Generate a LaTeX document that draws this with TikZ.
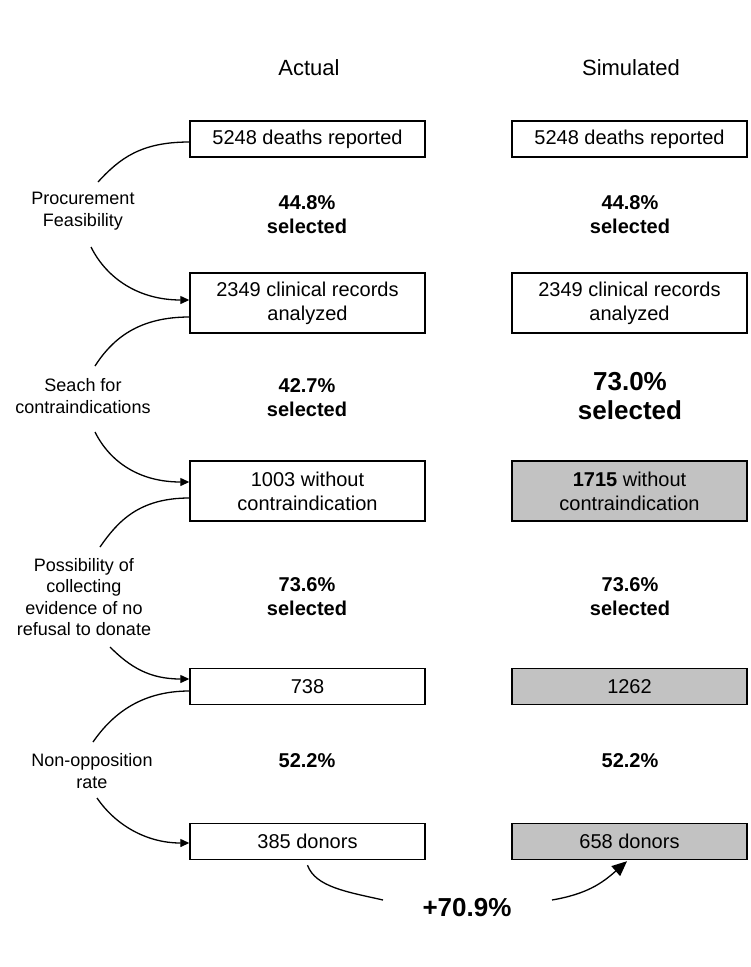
\documentclass[tikz,border=0pt]{standalone}
\usepackage{fontspec}
\setmainfont{Liberation Sans}
\usetikzlibrary{arrows.meta}
\definecolor{boxgray}{RGB}{194,194,194}
\begin{document}
\begin{tikzpicture}[x=1pt,y=-1pt,
  box/.style={draw=black, line width=1.4pt, minimum width=235pt, inner sep=0pt, align=center, font=\fontsize{20}{24}\selectfont},
  onebox/.style={box, minimum height=36pt},
  twobox/.style={box, minimum height=60pt},
  sim/.style={fill=boxgray},
  pct/.style={align=center, font=\bfseries\fontsize{20}{24}\selectfont},
  bigpct/.style={align=center, font=\bfseries\fontsize{26}{29}\selectfont},
  lab/.style={align=center, font=\fontsize{18}{21.5}\selectfont},
  head/.style={font=\fontsize{22}{26}\selectfont},
  conn/.style={line width=1.3pt},
  arr/.style={conn, -{Triangle[length=9pt,width=8pt]}},
  bigarr/.style={conn, -{Triangle[length=15pt,width=13pt]}}
]
\useasboundingbox (0,0) rectangle (751,967);

% headers
\node[head] (hA) at (309,68) {Actual};
\node[head] (hS) at (631,68) {Simulated};

% actual column
\node[onebox] (l1) at (307.5,139) {5248 deaths reported};
\node[twobox] (l2) at (307.5,303) {2349 clinical records\\analyzed};
\node[twobox] (l3) at (307.5,491) {1003 without\\contraindication};
\node[onebox] (l4) at (307.5,686.5) {738};
\node[onebox] (l5) at (307.5,841.5) {385 donors};

% simulated column
\node[onebox] (r1) at (629.5,139) {5248 deaths reported};
\node[twobox] (r2) at (629.5,303) {2349 clinical records\\analyzed};
\node[twobox,sim] (r3) at (629.5,491) {\textbf{1715} without\\contraindication};
\node[onebox,sim] (r4) at (629.5,686.5) {1262};
\node[onebox,sim] (r5) at (629.5,841.5) {658 donors};

% percentages
\node[pct] (p1l) at (307,215) {44.8\%\\selected};
\node[pct] (p1r) at (630,215) {44.8\%\\selected};
\node[pct] (p2l) at (307,398) {42.7\%\\selected};
\node[bigpct] (p2r) at (630,396) {73.0\%\\selected};
\node[pct] (p3l) at (307,597) {73.6\%\\selected};
\node[pct] (p3r) at (630,597) {73.6\%\\selected};
\node[pct] (p4l) at (307,761) {52.2\%};
\node[pct] (p4r) at (630,761) {52.2\%};

% step labels
\node[lab] (s1) at (83,211) {Procurement\\Feasibility};
\node[lab] (s2) at (83,396) {Seach for\\contraindications};
\node[lab] (s3) at (84,597) {Possibility of\\collecting\\evidence of no\\refusal to donate};
\node[lab] (s4) at (92,771) {Non-opposition\\rate};

% free ends of connectors
\coordinate (c1a) at (98,182);
\coordinate (c1b) at (91,247);
\coordinate (c2a) at (95,366);
\coordinate (c2b) at (95,432);
\coordinate (c3a) at (100,547);
\coordinate (c3b) at (110,647);
\coordinate (c4a) at (93,742);
\coordinate (c4b) at (97,798);
\coordinate (c5a) at (383,900);
\coordinate (c5b) at (552,900);

% connectors
\draw[conn] ([yshift=-3pt]l1.west) .. controls +(-48,0) and +(22,-24) .. (c1a);
\draw[arr] (c1b) .. controls +(16,32) and +(-50,0) .. ([yshift=3pt]l2.west);
\draw[conn] ([yshift=-14pt]l2.west) .. controls +(-50,0) and +(18,-28) .. (c2a);
\draw[arr] (c2b) .. controls +(15,30) and +(-50,0) .. ([yshift=9pt]l3.west);
\draw[conn] ([yshift=-7pt]l3.west) .. controls +(-50,0) and +(18,-26) .. (c3a);
\draw[arr] (c3b) .. controls +(20,20) and +(-40,0) .. ([yshift=7.5pt]l4.west);
\draw[conn] ([yshift=-4.5pt]l4.west) .. controls +(-50,0) and +(18,-26) .. (c4a);
\draw[arr] (c4b) .. controls +(17,25) and +(-45,0) .. ([yshift=-1.5pt]l5.west);

% overall gain
\node[bigpct] (gain) at (467,908) {+70.9\%};
\draw[conn] ([yshift=-5pt]l5.south) .. controls +(8,22) and +(-35,-8) .. (c5a);
\draw[bigarr] (c5b) .. controls +(35,-6) and +(-25,22) .. ([xshift=-2.5pt,yshift=-1pt]r5.south);
\end{tikzpicture}
\end{document}
